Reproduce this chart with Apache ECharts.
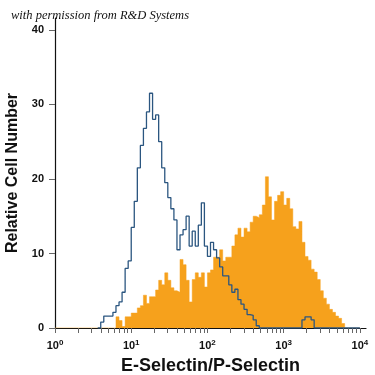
<!DOCTYPE html>
<html>
<head>
<meta charset="utf-8">
<script src="https://cdn.jsdelivr.net/npm/echarts@6/dist/echarts.min.js"></script>
<style>html,body{margin:0;padding:0;background:#fff}#c{width:375px;height:375px}</style>
</head>
<body>
<div id="c"></div>
<script>
// Histogram bins: each bin spans 0.04 decade, starting at 10^0 (values are log10 of fluorescence)
const binWidthDecades = 0.04;
const binCount = 100;
// Orange (E-Selectin/P-Selectin stained) counts per bin
const orangeCounts = [
  0,0,0,0,0,0,0,0,0,0, 0,0,0,0,0,0,0,0,0,0,
  1.5,1.0,0.2,1.5,1.5,2.0,2.0,2.7,3.0,4.4,
  3.3,4.2,4.2,5.1,6.4,5.8,7.4,6.4,5.4,5.0,
  4.8,9.2,8.5,6.4,3.5,6.5,7.4,6.8,7.4,5.5,
  7.4,7.8,9.5,9.5,10.5,9.0,9.5,9.5,11.0,12.5,
  13.4,12.2,13.4,12.9,14.2,15.0,14.8,15.2,16.5,20.3,
  17.6,14.5,17.0,17.8,18.3,16.5,17.4,16.0,13.6,13.3,
  14.3,11.5,9.6,9.1,7.9,7.5,6.5,5.0,4.0,3.2,
  2.5,2.1,1.6,1.3,0.6,0,0,0,0,0
];
// Blue (isotype control) counts per bin; null = no trace drawn
const blueCounts = [
  null,null,null,null,null,null,null,null,null,null,
  null,null,null,null,0,0.8,1.6,1.6,1.6,2.1,
  3.0,3.5,4.8,8.0,9.0,13.5,17.0,21.5,24.5,26.8,
  29.0,31.5,28.0,28.6,25.0,21.5,19.5,17.5,16.0,14.5,
  10.5,12.5,13.2,15.0,11.0,13.0,11.0,13.8,16.8,11.0,
  9.6,11.5,10.5,9.4,8.2,7.0,7.0,5.8,4.8,5.2,
  3.8,3.2,2.5,1.8,1.7,1.1,0.3,0,0,0,
  0,0,0,0,0,0,0,0,0,0,
  0,1.1,1.5,1.5,1.1,0,0,0,0,0,
  0,0,0,0,0,0,0,0,0,0
];
const xDecades = [0, 1, 2, 3, 4];
const yTicks = [0, 10, 20, 30, 40];
const xTitle = 'E-Selectin/P-Selectin';
const yTitle = 'Relative Cell Number';
const noteText = 'with permission from R&D Systems';

function toSteps(counts) {
  const pts = [];
  for (let i = 0; i < counts.length; i++) {
    const v = counts[i];
    pts.push([+(i * binWidthDecades).toFixed(4), v === null ? '-' : v]);
  }
  pts.push([+(counts.length * binWidthDecades).toFixed(4), 0]);
  return pts;
}
const minorTicks = [];
for (let d = 0; d < 4; d++) for (let k = 1; k <= 9; k++) minorTicks.push(+(d + Math.log10(k)).toFixed(5));
minorTicks.push(4);

const chart = echarts.init(document.getElementById('c'), null, {renderer: 'canvas'});
chart.setOption({
  animation: false,
  backgroundColor: '#fff',
  graphic: [{
    type: 'text', left: 11, top: 9, z: 10,
    style: {text: noteText, font: 'italic 12.5px "Liberation Serif"', fill: '#111'}
  }],
  grid: {left: 55, right: 9, top: 18, bottom: 47, containLabel: false, outerBoundsMode: 'none'},
  xAxis: {
    type: 'value', min: 0, max: 4.08,
    axisLine: {lineStyle: {color: '#111', width: 1.2}},
    axisTick: {show: true, customValues: minorTicks, length: 5, lineStyle: {color: '#666'}},
    axisLabel: {
      customValues: xDecades, margin: 11, color: '#111',
      formatter: v => '{b|10}{s|' + Math.round(v) + '}',
      rich: {
        b: {fontSize: 11, fontWeight: 'bold', fontFamily: 'Liberation Sans', color: '#111'},
        s: {fontSize: 8, fontWeight: 'bold', fontFamily: 'Liberation Sans', color: '#111', verticalAlign: 'top', padding: [0, 0, 6, 0]}
      }
    },
    splitLine: {show: false},
    name: xTitle, nameLocation: 'middle', nameGap: 29,
    nameTextStyle: {fontSize: 18, fontWeight: 'bold', fontFamily: 'Liberation Sans', color: '#111'}
  },
  yAxis: {
    type: 'value', min: 0, max: 41.6,
    axisLine: {show: true, lineStyle: {color: '#111', width: 1.2}},
    axisTick: {show: true, customValues: yTicks, length: 6, lineStyle: {color: '#666'}},
    axisLabel: {customValues: yTicks, margin: 11, fontSize: 11, fontWeight: 'bold', fontFamily: 'Liberation Sans', color: '#111'},
    splitLine: {show: false},
    name: yTitle, nameLocation: 'middle', nameGap: 33, nameRotate: 90,
    nameTextStyle: {fontSize: 16, fontWeight: 'bold', fontFamily: 'Liberation Sans', color: '#111'}
  },
  series: [
    {
      type: 'line', step: 'end', symbol: 'none', data: toSteps(orangeCounts),
      lineStyle: {width: 0.5, color: '#f6a11c'},
      areaStyle: {color: '#f6a11c', opacity: 1},
      z: 2
    },
    {
      type: 'line', step: 'end', symbol: 'none', data: toSteps(blueCounts),
      connectNulls: false,
      lineStyle: {width: 1.3, color: '#2b5680'},
      z: 3
    }
  ]
});
</script>
</body>
</html>
